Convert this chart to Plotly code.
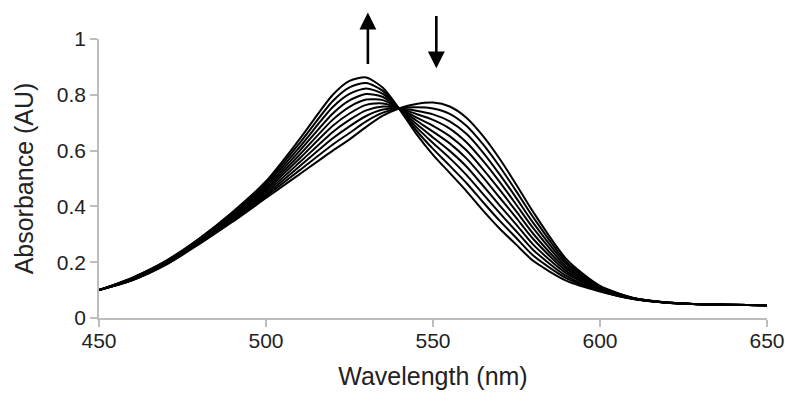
import plotly.graph_objects as go

wavelength = [450, 460, 470, 480, 490, 500, 510, 520, 525, 530, 535, 540,
              545, 550, 555, 560, 565, 570, 575, 580, 590, 600, 610, 620, 635, 650]

spec_0 = [0.100, 0.145, 0.205, 0.285, 0.380, 0.490, 0.640, 0.800, 0.850, 0.862, 0.825, 0.748,
          0.660, 0.585, 0.520, 0.455, 0.385, 0.320, 0.262, 0.205, 0.133, 0.095, 0.068, 0.055, 0.048, 0.046]
spec_1 = [0.100, 0.144, 0.203, 0.283, 0.376, 0.483, 0.626, 0.778, 0.827, 0.842, 0.814, 0.748,
          0.672, 0.606, 0.546, 0.484, 0.415, 0.348, 0.286, 0.224, 0.142, 0.097, 0.068, 0.055, 0.048, 0.046]
spec_2 = [0.100, 0.143, 0.202, 0.281, 0.372, 0.477, 0.612, 0.756, 0.803, 0.823, 0.803, 0.749,
          0.684, 0.627, 0.573, 0.513, 0.444, 0.376, 0.310, 0.244, 0.150, 0.099, 0.069, 0.055, 0.048, 0.046]
spec_3 = [0.100, 0.142, 0.200, 0.278, 0.368, 0.470, 0.598, 0.733, 0.780, 0.803, 0.792, 0.749,
          0.696, 0.647, 0.599, 0.543, 0.474, 0.403, 0.334, 0.263, 0.159, 0.102, 0.069, 0.055, 0.048, 0.046]
spec_4 = [0.100, 0.141, 0.198, 0.276, 0.364, 0.463, 0.584, 0.711, 0.757, 0.783, 0.781, 0.750,
          0.708, 0.668, 0.626, 0.572, 0.504, 0.431, 0.358, 0.283, 0.167, 0.104, 0.070, 0.055, 0.048, 0.046]
spec_5 = [0.100, 0.139, 0.197, 0.274, 0.361, 0.457, 0.571, 0.689, 0.733, 0.764, 0.769, 0.750,
          0.719, 0.689, 0.652, 0.601, 0.533, 0.459, 0.381, 0.302, 0.176, 0.106, 0.070, 0.056, 0.048, 0.046]
spec_6 = [0.100, 0.138, 0.195, 0.272, 0.357, 0.450, 0.557, 0.667, 0.710, 0.744, 0.758, 0.751,
          0.731, 0.710, 0.679, 0.630, 0.563, 0.487, 0.405, 0.322, 0.184, 0.108, 0.071, 0.056, 0.048, 0.046]
spec_7 = [0.100, 0.137, 0.193, 0.269, 0.353, 0.443, 0.543, 0.644, 0.687, 0.724, 0.747, 0.751,
          0.743, 0.730, 0.705, 0.660, 0.593, 0.514, 0.429, 0.341, 0.193, 0.111, 0.071, 0.056, 0.048, 0.046]
spec_8 = [0.100, 0.136, 0.192, 0.267, 0.349, 0.437, 0.529, 0.622, 0.663, 0.705, 0.736, 0.752,
          0.755, 0.751, 0.732, 0.689, 0.622, 0.542, 0.453, 0.361, 0.201, 0.113, 0.072, 0.056, 0.048, 0.046]
spec_9 = [0.100, 0.135, 0.190, 0.265, 0.345, 0.430, 0.515, 0.600, 0.640, 0.685, 0.725, 0.752,
          0.767, 0.772, 0.758, 0.718, 0.652, 0.570, 0.477, 0.380, 0.210, 0.115, 0.072, 0.056, 0.048, 0.046]

spectra = [spec_0, spec_1, spec_2, spec_3, spec_4, spec_5, spec_6, spec_7, spec_8, spec_9]

x_ticks = [450, 500, 550, 600, 650]
y_ticks = [0, 0.2, 0.4, 0.6, 0.8, 1]
y_tick_text = ["0", "0.2", "0.4", "0.6", "0.8", "1"]

# arrows: (x, y_tail, y_head)
arrow_up = (530.5, 0.905, 1.095)
arrow_down = (551.0, 1.088, 0.895)

fig = go.Figure()
for s in spectra:
    fig.add_trace(go.Scatter(x=wavelength, y=s, mode="lines",
                             line=dict(color="black", width=2.0, shape="spline", smoothing=0.7),
                             showlegend=False, hoverinfo="skip"))

for (ax_, yt, yh) in [arrow_up, arrow_down]:
    fig.add_annotation(x=ax_, y=yh, ax=ax_, ay=yt, xref="x", yref="y", axref="x", ayref="y",
                       showarrow=True, arrowhead=2, arrowsize=1.3, arrowwidth=2.6,
                       arrowcolor="black", text="")

font_family = "Liberation Sans, Arial, sans-serif"
fig.update_layout(
    width=785, height=409,
    margin=dict(l=99, r=18, t=39, b=91),
    paper_bgcolor="white", plot_bgcolor="white",
    font=dict(family=font_family, color="#222", size=21),
    xaxis=dict(range=[450, 650], tickvals=x_ticks, showgrid=False, zeroline=False,
               automargin=False,
               showline=True, linecolor="#bdbdbd", linewidth=1.5,
               ticks="outside", ticklen=7, tickcolor="#bdbdbd", tickwidth=1.5,
               ticklabelstandoff=-4,
               tickfont=dict(size=21, color="#222"),
               title=dict(text="Wavelength (nm)", font=dict(size=25, color="#222"), standoff=17)),
    yaxis=dict(range=[0, 1], tickvals=y_ticks, ticktext=y_tick_text, showgrid=False, zeroline=False,
               automargin=False,
               showline=True, linecolor="#bdbdbd", linewidth=1.5,
               ticks="outside", ticklen=7, tickcolor="#bdbdbd", tickwidth=1.5,
               tickfont=dict(size=21, color="#222"),
               title=dict(text="Absorbance (AU)", font=dict(size=25, color="#222"), standoff=16)),
)

fig.write_html("out.html", config={"displayModeBar": False},
               post_script="document.body.style.margin='0';")
